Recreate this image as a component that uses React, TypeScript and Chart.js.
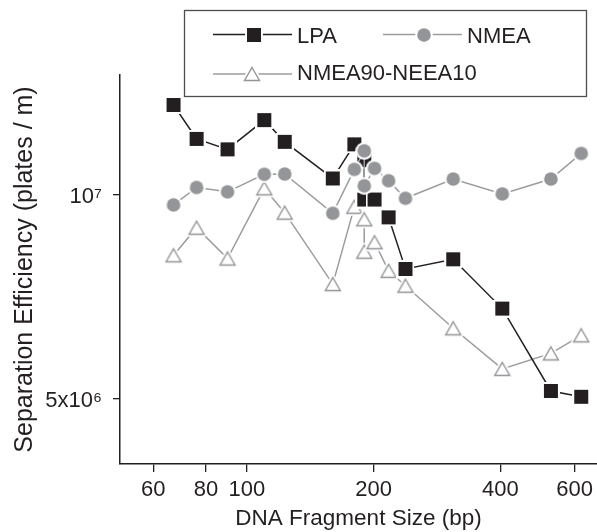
import React, { useEffect, useRef } from 'react';
import { Chart, registerables } from 'chart.js';

Chart.register(...registerables);

// ---- data ----
const fragmentSizes = [67, 76, 90, 110, 123, 160, 180, 190, 190, 201, 217, 238, 309, 404, 527, 622];
const lpaValues = [1.358e7, 1.21e7, 1.168e7, 1.29e7, 1.198e7, 1.058e7, 1.188e7, 1.126e7, 9.85e6, 9.85e6, 9.27e6, 7.78e6, 8.04e6, 6.8e6, 5.14e6, 5.04e6];
const nmeaValues = [9.67e6, 1.026e7, 1.011e7, 1.073e7, 1.074e7, 9.4e6, 1.091e7, 1.162e7, 1.032e7, 1.095e7, 1.05e7, 9.89e6, 1.056e7, 1.004e7, 1.056e7, 1.152e7];
const blendValues = [8.15e6, 8.95e6, 8.06e6, 1.023e7, 9.42e6, 7.39e6, 9.61e6, 9.21e6, 8.25e6, 8.52e6, 7.73e6, 7.35e6, 6.36e6, 5.54e6, 5.84e6, 6.21e6];
const xTickValues = [60, 80, 100, 200, 400, 600];
const yTickValues = [5e6, 1e7];
const yTickLabels = ['5x10⁶', '10⁷'];
const seriesNames = ['LPA', 'NMEA', 'NMEA90-NEEA10'];
const xTitle = 'DNA Fragment Size (bp)';
const yTitle = 'Separation Efficiency (plates / m)';

const INK = '#231f20';
const GREY_FILL = '#939598';
const GREY_LINE = '#9a9c9f';
const FONT = '"Liberation Sans", Arial, Helvetica, sans-serif';

function makeSquare(): HTMLCanvasElement {
  const side = 14;
  const halo = 2;
  const s = side + 2 * halo;
  const c = document.createElement('canvas');
  c.width = s;
  c.height = s;
  const ctx = c.getContext('2d')!;
  ctx.fillStyle = '#ffffff';
  ctx.fillRect(0, 0, s, s);
  ctx.fillStyle = INK;
  ctx.fillRect(halo, halo, side, side);
  return c;
}

function makeCircle(): HTMLCanvasElement {
  const s = 18;
  const c = document.createElement('canvas');
  c.width = s;
  c.height = s;
  const ctx = c.getContext('2d')!;
  ctx.fillStyle = '#ffffff';
  ctx.beginPath();
  ctx.arc(s / 2, s / 2, 8.8, 0, Math.PI * 2);
  ctx.fill();
  ctx.fillStyle = GREY_FILL;
  ctx.beginPath();
  ctx.arc(s / 2, s / 2, 6.8, 0, Math.PI * 2);
  ctx.fill();
  return c;
}

function makeTriangle(): HTMLCanvasElement {
  const w = 24;
  const h = 22;
  const c = document.createElement('canvas');
  c.width = w;
  c.height = h;
  const ctx = c.getContext('2d')!;
  const cx = w / 2;
  const cy = h / 2;
  const half = 7.5;
  const th = 13;
  const path = () => {
    ctx.beginPath();
    ctx.moveTo(cx, cy - th / 2);
    ctx.lineTo(cx + half, cy + th / 2);
    ctx.lineTo(cx - half, cy + th / 2);
    ctx.closePath();
  };
  ctx.lineJoin = 'round';
  path();
  ctx.strokeStyle = '#ffffff';
  ctx.lineWidth = 5;
  ctx.stroke();
  ctx.fillStyle = '#ffffff';
  ctx.fill();
  path();
  ctx.lineJoin = 'miter';
  ctx.strokeStyle = GREY_FILL;
  ctx.lineWidth = 1.4;
  ctx.stroke();
  return c;
}

export default function App() {
  const canvasRef = useRef<HTMLCanvasElement | null>(null);

  useEffect(() => {
    if (!canvasRef.current) return;
    const square = makeSquare();
    const circle = makeCircle();
    const triangle = makeTriangle();

    const legendPlugin = {
      id: 'boxLegend',
      afterDraw(chart: any) {
        const ctx: CanvasRenderingContext2D = chart.ctx;
        ctx.save();
        ctx.fillStyle = '#ffffff';
        ctx.fillRect(184, 10, 403, 87);
        ctx.strokeStyle = '#4d4d4f';
        ctx.lineWidth = 1.3;
        ctx.strokeRect(184.5, 10.5, 402, 86);

        const row1 = 34.5;
        const row2 = 74;
        const drawSample = (x0: number, x1: number, y: number, color: string, img: HTMLCanvasElement, mx: number) => {
          ctx.strokeStyle = color;
          ctx.lineWidth = 1.5;
          ctx.beginPath();
          ctx.moveTo(x0, y);
          ctx.lineTo(x1, y);
          ctx.stroke();
          ctx.drawImage(img, Math.round(mx - img.width / 2), Math.round(y - img.height / 2));
        };
        drawSample(213, 292, row1, INK, square, 254);
        drawSample(383, 462, row1, GREY_LINE, circle, 424);
        drawSample(213, 292, row2, GREY_LINE, triangle, 252);

        ctx.fillStyle = INK;
        ctx.font = `22px ${FONT}`;
        ctx.textBaseline = 'middle';
        ctx.textAlign = 'left';
        ctx.fillText(seriesNames[0], 297, 37);
        ctx.fillText(seriesNames[1], 467, 37);
        ctx.fillText(seriesNames[2], 297, 74);
        ctx.restore();
      },
    };

    const toPoints = (vals: number[]) => fragmentSizes.map((x, i) => ({ x, y: vals[i] }));

    const chart = new Chart(canvasRef.current, {
      type: 'line',
      data: {
        datasets: [
          {
            label: seriesNames[1],
            data: toPoints(nmeaValues),
            borderColor: GREY_LINE,
            borderWidth: 1.5,
            pointStyle: circle as any,
            pointRadius: 8,
            tension: 0,
          },
          {
            label: seriesNames[0],
            data: toPoints(lpaValues),
            borderColor: INK,
            borderWidth: 1.5,
            pointStyle: square as any,
            pointRadius: 8,
            tension: 0,
          },
          {
            label: seriesNames[2],
            data: toPoints(blendValues),
            borderColor: GREY_LINE,
            borderWidth: 1.5,
            pointStyle: triangle as any,
            pointRadius: 8,
            tension: 0,
          },
        ],
      },
      options: {
        animation: false,
        responsive: true,
        maintainAspectRatio: false,
        events: [],
        layout: { autoPadding: false, padding: { top: 75, left: 0, right: 0, bottom: 0 } },
        plugins: {
          legend: { display: false },
          tooltip: { enabled: false },
        },
        scales: {
          x: {
            type: 'logarithmic',
            min: 50,
            max: 678,
            bounds: 'data',
            afterBuildTicks: (s: any) => {
              s.ticks = xTickValues.map((v) => ({ value: v }));
            },
            afterFit: (s: any) => {
              s.height = 68;
              s.paddingLeft = 0;
              s.paddingRight = 0;
            },
            ticks: {
              autoSkip: false,
              maxRotation: 0,
              minRotation: 0,
              padding: 5,
              color: INK,
              font: { family: FONT, size: 22 },
              callback: (v: any) => String(v),
            },
            grid: {
              display: true,
              drawOnChartArea: false,
              drawTicks: true,
              tickLength: 8,
              color: INK,
              tickColor: INK,
              tickWidth: 1.3,
              lineWidth: 1.3,
            },
            border: { display: true, color: INK, width: 1.5 },
            title: {
              display: true,
              text: xTitle,
              color: INK,
              font: { family: FONT, size: 22.5 },
              padding: { top: 0, bottom: 0 },
            },
          },
          y: {
            type: 'logarithmic',
            min: 4.011e6,
            max: 1.5035e7,
            bounds: 'data',
            afterBuildTicks: (s: any) => {
              s.ticks = yTickValues.map((v) => ({ value: v }));
            },
            afterFit: (s: any) => {
              s.width = 120;
              s.paddingTop = 0;
              s.paddingBottom = 0;
            },
            ticks: {
              autoSkip: false,
              padding: 11,
              labelOffset: 2,
              color: INK,
              font: { family: FONT, size: 22 },
              callback: (v: any) => {
                const i = yTickValues.indexOf(Number(v));
                return i >= 0 ? yTickLabels[i] : '';
              },
            },
            grid: {
              display: true,
              drawOnChartArea: false,
              drawTicks: true,
              tickLength: 7,
              color: INK,
              tickColor: INK,
              tickWidth: 1.3,
              lineWidth: 1.3,
            },
            border: { display: true, color: INK, width: 1.5 },
            title: {
              display: true,
              text: yTitle,
              color: INK,
              font: { family: FONT, size: 25 },
              padding: { top: 10, bottom: 0 },
            },
          },
        },
      } as any,
      plugins: [legendPlugin],
    });

    return () => {
      chart.destroy();
    };
  }, []);

  return (
    <div style={{ position: 'absolute', left: 0, top: 0, width: 597, height: 532, background: '#ffffff' }}>
      <canvas ref={canvasRef} />
    </div>
  );
}
